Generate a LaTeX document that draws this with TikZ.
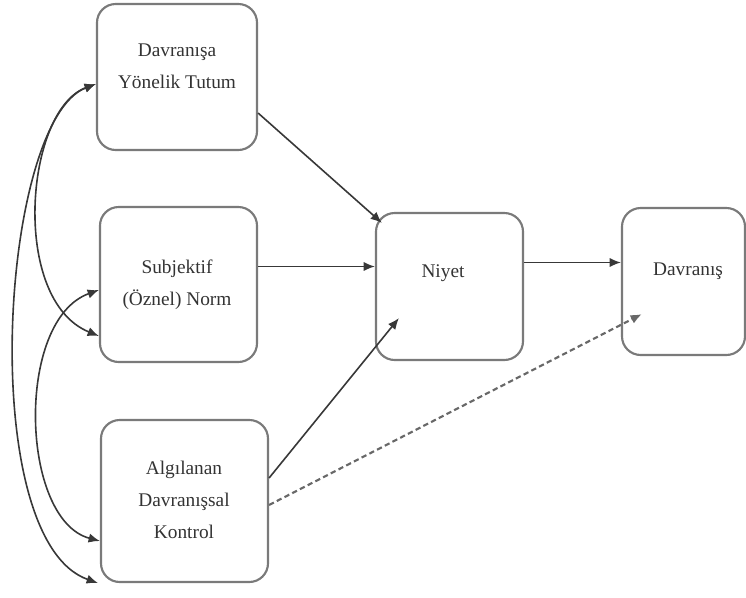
\documentclass[tikz,border=0pt]{standalone}
\usepackage{fontspec}
\setmainfont{Liberation Serif}
\usetikzlibrary{arrows.meta}
\definecolor{kenar}{HTML}{7A7A7A}
\definecolor{cizgi}{HTML}{383838}
\definecolor{yazirengi}{HTML}{333333}
\tikzset{
	kutu/.style={draw=kenar, line width=1.6pt, rounded corners=14pt},
	yazi/.style={align=center, text=yazirengi, font=\fontsize{14.5}{24}\selectfont},
	uc/.tip={Latex[length=8.5pt,width=7pt]},
	ok/.style={-uc, cizgi, line width=1.2pt},
	iki/.style={uc-uc, draw=cizgi, line width=1.2pt},
	kesik/.style={-uc, kenar!85!black, line width=1.6pt, dash pattern=on 4pt off 2.5pt},
}
\begin{document}
\begin{tikzpicture}[x=0.75pt, y=-0.75pt]
		\useasboundingbox (0,0) rectangle (746,597);
		\node[kutu, minimum width=120pt, minimum height=109.5pt] (tutum) at (177,77) {};
		\node[kutu, minimum width=117.75pt, minimum height=116.25pt] (subj) at (178.5,284.5) {};
		\node[kutu, minimum width=125.25pt, minimum height=121.5pt] (kontrol) at (184.5,501) {};
		\node[kutu, minimum width=110.25pt, minimum height=110.25pt] (niyet) at (449.5,286.5) {};
		\node[kutu, minimum width=92.25pt, minimum height=110.25pt] (davranis) at (683.5,281.5) {};

		\node[yazi] (tutumY) at (177,66) {Davranışa\\Yönelik Tutum};
		\node[yazi] (subjY) at (177,285) {Subjektif\\(Öznel) Norm};
		\node[yazi] (kontrolY) at (184,500) {Algılanan\\Davranışsal\\Kontrol};
		\node[yazi] (niyetY) at (443,273) {Niyet};
		\node[yazi] (davranisY) at (688,271) {Davranış};

		\coordinate (s) at ([shift={(0,-18)}]subj.east);
		\coordinate (n) at ([shift={(0,-24)}]niyet.east);

		\path[ok]
		  ([shift={(0,36)}]tutum.east) edge ([shift={(7,11)}]niyet.north west)
		  (s) edge (s -| niyet.west)
		  ([shift={(0,-23)}]kontrol.east) edge ([shift={(24,-43)}]niyet.south west)
		  (n) edge (n -| davranis.west);
		\path[kesik] ([shift={(0,4)}]kontrol.east) edge ([shift={(21,-42)}]davranis.south west);

		\draw[iki] ([shift={(0,7)}]tutum.west) .. controls (25,110) and (10,300) .. ([shift={(0,51.5)}]subj.west);
		\draw[iki] ([shift={(0,7)}]tutum.west) .. controls (0,120) and (-25,540) .. ([shift={(-2,82)}]kontrol.west);
		\draw[iki] ([shift={(0,5.5)}]subj.west) .. controls (15,320) and (20,520) .. ([shift={(0,40)}]kontrol.west);
	       \end{tikzpicture}
\end{document}
